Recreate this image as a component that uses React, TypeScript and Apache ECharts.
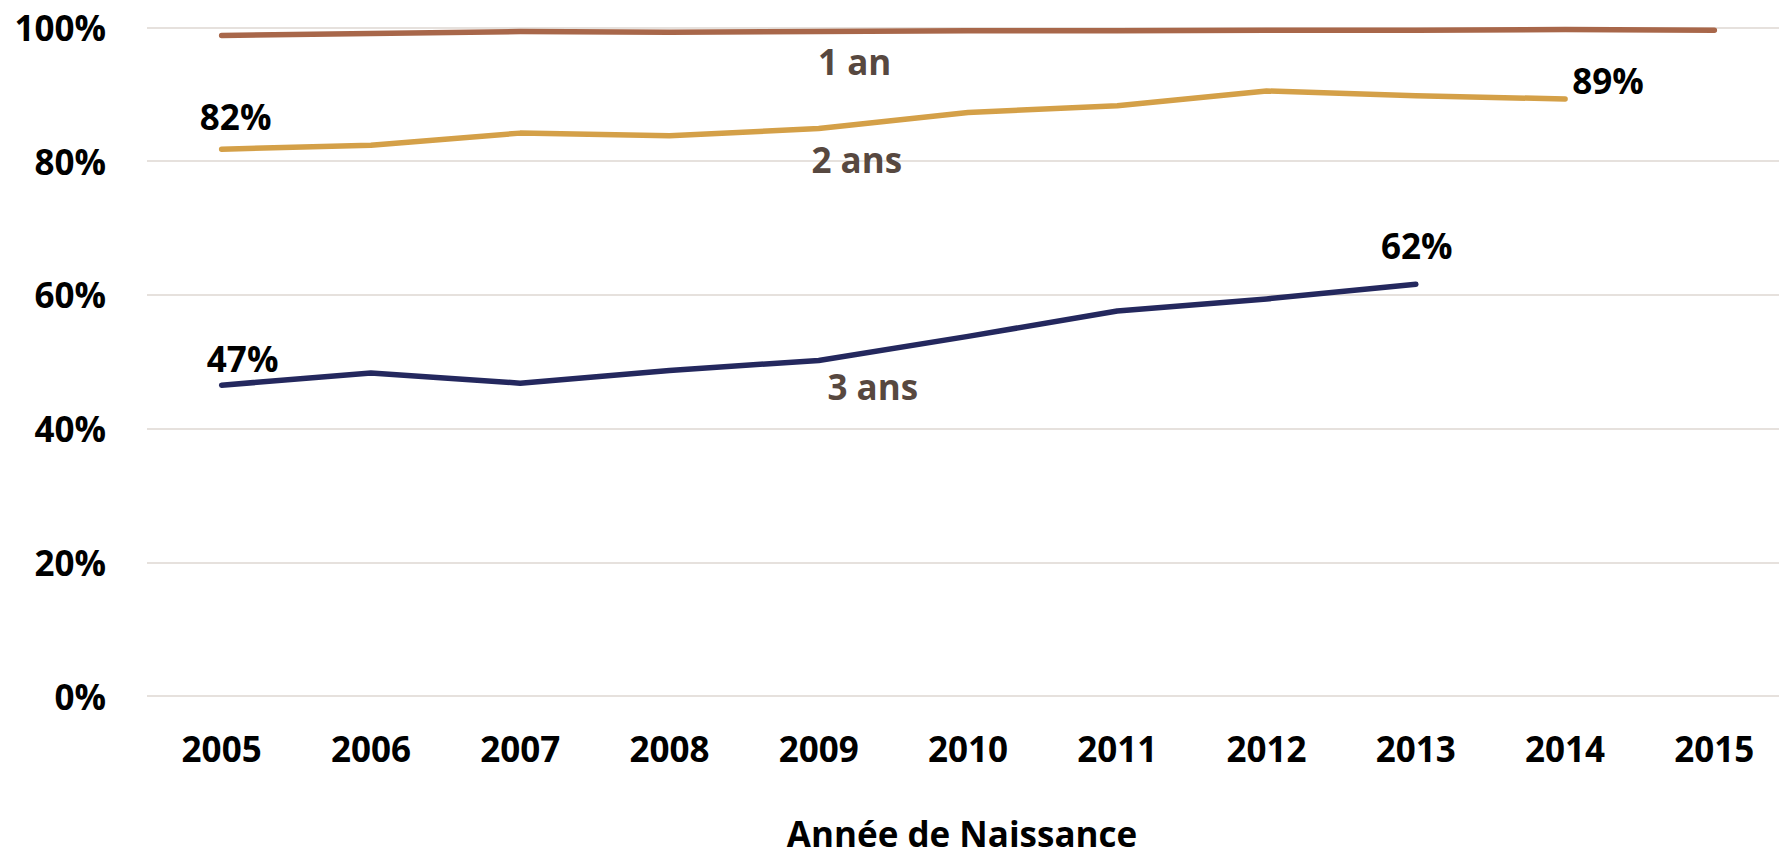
import React, { useEffect, useRef } from "react";
import * as echarts from "echarts";

const years = ["2005", "2006", "2007", "2008", "2009", "2010", "2011", "2012", "2013", "2014", "2015"];
const unAn = [98.8, 99.1, 99.4, 99.3, 99.4, 99.5, 99.5, 99.6, 99.6, 99.7, 99.6];
const deuxAns = [81.8, 82.4, 84.2, 83.8, 84.9, 87.3, 88.3, 90.5, 89.8, 89.3, null];
const troisAns = [46.5, 48.3, 46.8, 48.7, 50.2, 53.8, 57.6, 59.4, 61.6, null, null];
const seriesNames = ["1 an", "2 ans", "3 ans"];
const colors = ["#a8674a", "#d4a048", "#24285e"];
const yTicks = [0, 20, 40, 60, 80, 100];

const FONT = "'Open Sans', 'Noto Sans', sans-serif";
const FS = 35;
const nameLabelColor = "#574840";

type LabelSpec = { idx: number; kind: "value" | "name"; offset: [number, number]; position: string };

function buildData(values: (number | null)[], name: string, specs: LabelSpec[]) {
  return values.map((v, i) => {
    const spec = specs.find((s) => s.idx === i);
    if (!spec || v === null) return v;
    return {
      value: v,
      label: {
        show: true,
        position: spec.position,
        offset: spec.offset,
        formatter: spec.kind === "value" ? Math.round(v) + "%" : name,
        color: spec.kind === "value" ? "#000000" : nameLabelColor,
        fontSize: FS,
        fontWeight: "bold",
        fontFamily: FONT,
      },
    };
  });
}

export default function App() {
  const ref = useRef<HTMLDivElement>(null);
  useEffect(() => {
    if (!ref.current) return;
    const chart = echarts.init(ref.current, undefined, { renderer: "svg" });
    const lineBase = (i: number) => ({
      type: "line",
      name: seriesNames[i],
      symbol: "circle",
      symbolSize: 1,
      showSymbol: true,
      itemStyle: { color: colors[i] },
      lineStyle: { color: colors[i], width: 5.5, cap: "round", join: "round" },
      emphasis: { disabled: true },
      connectNulls: false,
    });
    chart.setOption({
      animation: false,
      grid: { left: 147, right: 11, top: 27.5, bottom: 158.5, containLabel: false },
      xAxis: {
        type: "category",
        data: years,
        boundaryGap: true,
        axisLine: { show: false },
        axisTick: { show: false },
        axisLabel: { fontSize: FS, fontWeight: "bold", fontFamily: FONT, color: "#000", margin: 35 },
        name: "Année de Naissance",
        nameLocation: "middle",
        nameGap: 120,
        nameTextStyle: { fontSize: FS, fontWeight: "bold", fontFamily: FONT, color: "#000", padding: [0, 12, 0, 0] },
      },
      yAxis: {
        type: "value",
        min: yTicks[0],
        max: yTicks[yTicks.length - 1],
        interval: 20,
        axisLine: { show: false },
        axisTick: { show: false },
        splitLine: { lineStyle: { color: "#e6e1dd", width: 2 } },
        axisLabel: { fontSize: FS, fontWeight: "bold", fontFamily: FONT, color: "#000", margin: 41, formatter: "{value}%" },
      },
      series: [
        {
          ...lineBase(0),
          data: buildData(unAn, seriesNames[0], [{ idx: 4, kind: "name", position: "bottom", offset: [36, 7] }]),
        },
        {
          ...lineBase(1),
          data: buildData(deuxAns, seriesNames[1], [
            { idx: 0, kind: "value", position: "top", offset: [14, -10] },
            { idx: 4, kind: "name", position: "bottom", offset: [38, 8] },
            { idx: 9, kind: "value", position: "top", offset: [43, 4] },
          ]),
        },
        {
          ...lineBase(2),
          data: buildData(troisAns, seriesNames[2], [
            { idx: 0, kind: "value", position: "top", offset: [21, -4] },
            { idx: 4, kind: "name", position: "bottom", offset: [54, 3] },
            { idx: 8, kind: "value", position: "top", offset: [1, -16] },
          ]),
        },
      ],
    });
    return () => chart.dispose();
  }, []);
  return (
    <div style={{ position: "fixed", left: 0, top: 0, width: 1779, height: 856, overflow: "hidden", background: "#fff" }}>
      <div ref={ref} style={{ width: 1800, height: 856 }} />
    </div>
  );
}
